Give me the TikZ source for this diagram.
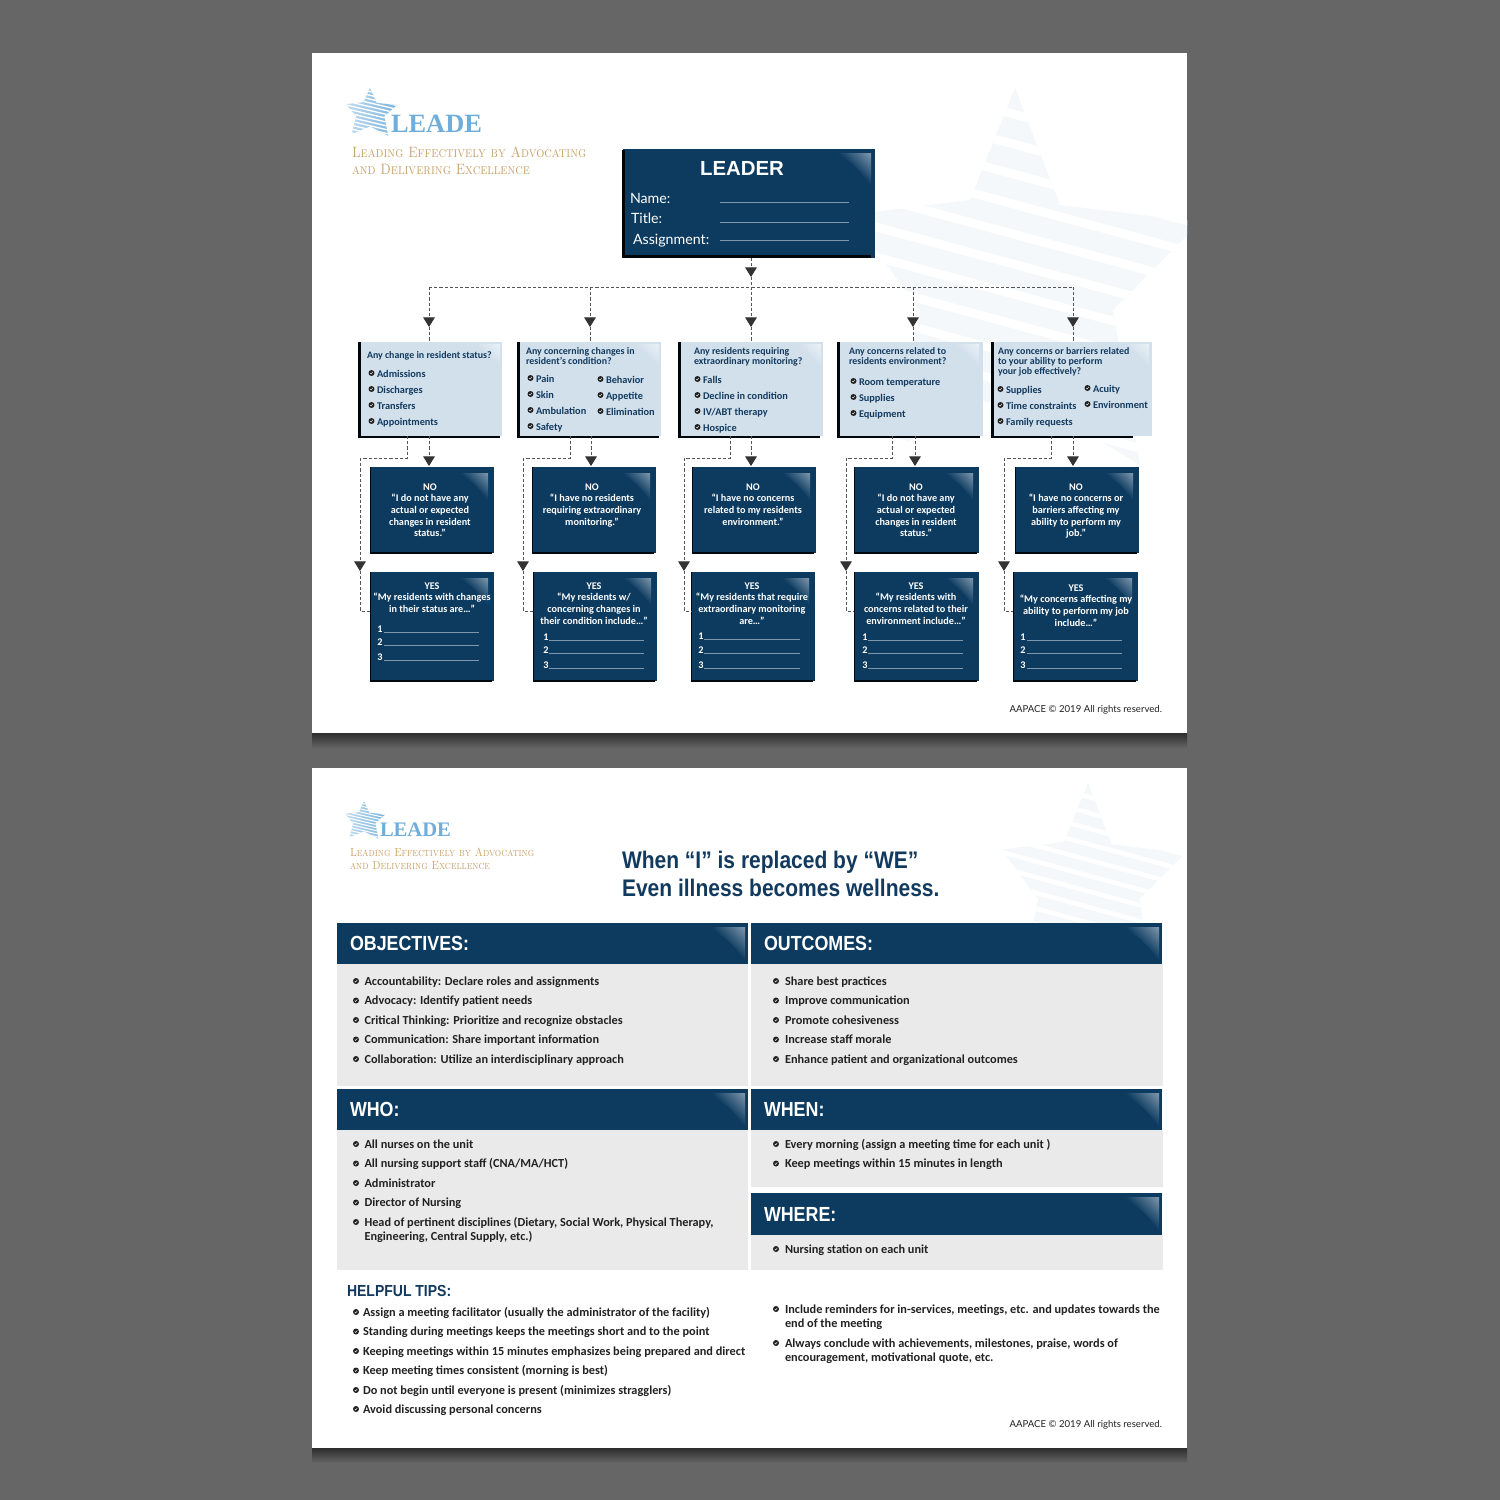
\documentclass[tikz,border=0pt]{standalone}
\usepackage{fontspec}
\usetikzlibrary{arrows.meta}
\newfontfamily\bodyfam{Carlito}
\newcommand\bodyf{\bodyfam\bfseries}
\newfontfamily\regf{Lato}
\newfontfamily\headf[FakeStretch=0.875]{Liberation Sans}
\newfontfamily\leadf{Liberation Sans}
\newfontfamily\logof{Liberation Serif}
\definecolor{navy}{HTML}{0D3B60}
\definecolor{qblue}{HTML}{D2E0EC}
\definecolor{panel}{HTML}{EAEAEA}
\definecolor{logoblue}{HTML}{6FAEDB}
\definecolor{gold}{HTML}{C9A26A}
\definecolor{ink}{HTML}{123A5E}
\definecolor{dark}{HTML}{222222}
\definecolor{conn}{HTML}{555555}
\definecolor{ruleb}{HTML}{7F97AD}
\definecolor{faint}{HTML}{F4F8FB}
\definecolor{lightn}{HTML}{B5C4D2}
\definecolor{lightq}{HTML}{F6F9FB}
\pgfdeclareverticalshading{glossnavy}{100bp}{color(0bp)=(navy); color(55bp)=(navy); color(100bp)=(lightn)}
\pgfdeclareverticalshading{glossq}{100bp}{color(0bp)=(qblue); color(55bp)=(qblue); color(100bp)=(lightq)}
\newcounter{tn}
\newcommand\fs[2]{\fontsize{#1}{#2}\selectfont}
\newcommand\sq[1]{\scalebox{.85}[1]{#1}}
% text: x, y, options, text
\newcommand\T[4]{\stepcounter{tn}\node[txt,#3] (t\thetn) at (#1,#2) {#4};}
\newcommand\ML[4]{\stepcounter{tn}\node[mltxt,#3] (t\thetn) at (#1,#2) {#4};}
\newcommand\bul[3]{\fill[#3] (#1,#2) circle (3);\draw[white,line width=.2pt] ({#1-1.2},#2) -- ({#1-.3},{#2+1}) -- ({#1+1.3},{#2-1.1});}
\newcommand\gloss[5]{% x2,y1,w,h,shading
  \shade[shading=#5,shading angle=-45] ({#1-#3},#2) -- (#1,#2) -- (#1,{#2+#4}) .. controls ({#1-.25*#3},{#2+.45*#4}) and ({#1-.6*#3},{#2+.1*#4}) .. ({#1-#3},#2) -- cycle;}
% name,x1,y1,x2,y2
\newcommand\navybox[5]{%
  \node[navyn,minimum width={(#4-#2)*.5pt},minimum height={(#5-#3)*.5pt}] (#1) at ({(#2+#4)/2},{(#3+#5)/2}) {};
  \fill[black!85!navy] (#2,#3) rectangle ({#2+1},#5);
  \fill[black!85!navy] (#2,{#5-1}) rectangle ({#4-2},{#5+1});
  \gloss{#4-6}{#3+6}{34}{30}{glossnavy}}
\newcommand\qbox[7]{% name,x1,y1,x2,y2,blackend,glossright
  \node[qn,minimum width={(#4-#2)*.5pt},minimum height={(#5-#3)*.5pt}] (#1) at ({(#2+#4)/2},{(#3+#5)/2}) {};
  \fill[black!90!navy] ({#2},#3) rectangle ({#2+2.5},{#5+2});
  \fill[black!90!navy] (#2,#5) rectangle (#6,{#5+2});
  \gloss{#7}{#3+2}{32}{24}{glossq}}
\newcommand\headbar[6]{% name,x1,y1,x2,y2,label
  \node[navyn,minimum width={(#4-#2)*.5pt},minimum height={(#5-#3)*.5pt}] (#1) at ({(#2+#4)/2},{(#3+#5)/2}) {};
  \gloss{#4-3}{#3+4}{44}{35}{glossnavy}
  \T{#2+13}{{(#3+#5)/2+1}}{anchor=west,text=white,font={\headf\bfseries\fs{10.2}{12}},text height=1.6ex,text depth=.1ex}{#6}}
\newcommand\stripestar[6]{% apex x,y,xs,ys,fillopts,gap
  \begin{scope}[shift={(#1,#2)},xscale=#3,yscale=#4]
    \clip (0,0) -- (45,117) -- (185,134) -- (98,222) -- (125,377) -- (0,302) -- (-125,362) -- (-95,222) -- (-165,127) -- (-45,112) -- cycle;
    \path[#5] (-220,-10) rectangle (220,420);
    \foreach \k in {-3,...,15}{
      \fill[white] (-220,{22+30*\k-59.4}) -- (220,{22+30*\k+59.4}) -- (220,{22+30*\k+59.4+#6}) -- (-220,{22+30*\k-59.4+#6}) -- cycle;}
  \end{scope}}
\tikzset{
  txt/.style={inner sep=0pt,outer sep=0pt,text=ink,font={\bodyf\fs{5.15}{6}},text height=1.5ex,text depth=.3ex},
  mltxt/.style={inner sep=0pt,outer sep=0pt,text=ink,font={\bodyf\fs{4.95}{5}},align=left,anchor=north west},
  ansn/.style={mltxt,text=white,align=center,anchor=north,font={\bodyf\fs{5.1}{5.85}}},
  navyn/.style={fill=navy,draw=none,inner sep=0pt,outer sep=0pt},
  qn/.style={fill=qblue,draw=none,inner sep=0pt,outer sep=0pt},
  cline/.style={draw=conn,line width=.5pt,dash pattern=on 1.6pt off 1pt},
  arr/.style={cline,-{Triangle[length=4.8pt,width=5.8pt,fill=black!80,color=black!80]}},
  lineb/.style={draw=ruleb,line width=.45pt},
  q item/.style={anchor=west,yshift=.5pt},
  body/.style={anchor=west,text=dark,yshift=.5pt,font={\bodyf\fs{6.15}{7}}},
}
\newcommand\QI[3]{\bul{#1-5.5}{#2}{dark}\T{#1}{#2}{q item}{#3}}
\newcommand\BI[4]{\bul{#1-#2}{#3}{dark}\T{#1}{#3}{body}{#4}}
\newcommand\yesrules[5]{% digit x, rule x1,rule x2, y1,y2 ; y3 = y2+15
  \T{#1}{#4-4.5}{anchor=center,text=white,font={\bodyf\fs{5.1}{6}}}{1}
  \T{#1}{#5-4.5}{anchor=center,text=white,font={\bodyf\fs{5.1}{6}}}{2}
  \T{#1}{#5+10.5}{anchor=center,text=white,font={\bodyf\fs{5.1}{6}}}{3}
  \draw[lineb] (#2,#4) -- (#3,#4);
  \draw[lineb] (#2,#5) -- (#3,#5);
  \draw[lineb] (#2,{#5+15}) -- (#3,{#5+15});}
\begin{document}
\begin{tikzpicture}[x=.5pt,y=-.5pt]
\useasboundingbox (0,0) rectangle (1500,1500);
\fill[black!60] (0,0) rectangle (1500,1500);
% pages
\shade[top color=black!82,bottom color=black!62] (312,733) rectangle (1187,747);
\shade[top color=black!82,bottom color=black!62] (312,1448) rectangle (1187,1462);
\fill[white] (312,53) rectangle (1187,733);
\fill[white] (312,768) rectangle (1187,1448);
\begin{scope}
  \clip (312,53) rectangle (1187,733);
  \stripestar{1015}{88}{1}{1}{fill=faint}{9}
\end{scope}
\begin{scope}
  \clip (312,768) rectangle (1187,1448);
  \stripestar{1088}{783}{.524}{.524}{fill=faint}{9}
\end{scope}
% logo top
\stripestar{370}{88}{.146}{.127}{left color=logoblue!35,right color=logoblue}{11}
\T{391}{127}{anchor=west,text=logoblue,font={\logof\bfseries\fs{13.2}{16}}}{LEADE}
\T{352}{152}{anchor=west,text=gold,font={\fs{7.5}{9}\scshape}}{\sq{Leading Effectively by Advocating}}
\T{352}{169}{anchor=west,text=gold,font={\fs{7.5}{9}\scshape}}{\sq{and Delivering Excellence}}
% junctions
\coordinate (tipL) at (751,277);
\coordinate (j1) at (429,287);
\coordinate (j2) at (590,287);
\coordinate (j3) at (751,287);
\coordinate (j4) at (913,287);
\coordinate (j5) at (1073,287);
\foreach \n/\x in {1/429,2/590,3/751,4/913,5/1073}{\coordinate (a\n) at (\x,327);}
\foreach \n/\x in {1/429,2/591,3/751,4/915,5/1073}{\coordinate (b\n) at (\x,466);}
\foreach \n/\x/\l in {1/407/360,2/570/523,3/730/684,4/892/846,5/1051/1004}{
  \coordinate (c\n) at (\x,458);
  \coordinate (d\n) at (\l,458);
  \coordinate (e\n) at (\l,571);
  \coordinate (f\n) at (\l,611);
}
% boxes
\node[navyn,minimum width=126pt,minimum height=54.5pt] (leader) at (749,203.5) {};
\fill[black!90!navy] (622,150) rectangle (625,258);
\fill[black!90!navy] (622,255) rectangle (871,258);
\gloss{871}{153}{40}{36}{glossnavy}
\qbox{q1}{358}{342}{502}{436}{500}{500}
\qbox{q2}{517}{342}{661}{436}{659}{659}
\qbox{q3}{678}{342}{823}{436}{820}{821}
\qbox{q4}{837}{342}{983}{436}{980}{979}
\qbox{q5}{991}{342}{1152}{436}{1133}{1149}
\navybox{no1}{370}{467}{494}{553}
\navybox{no2}{532}{467}{656}{553}
\navybox{no3}{692}{467}{816}{553}
\navybox{no4}{854}{467}{979}{553}
\navybox{no5}{1015}{467}{1139}{553}
\navybox{yes1}{370}{572}{494}{681}
\navybox{yes2}{533}{572}{657}{681}
\navybox{yes3}{691}{572}{815}{681}
\navybox{yes4}{854}{572}{979}{681}
\navybox{yes5}{1013}{572}{1138}{681}
% connectors
\draw[arr] (leader.south -| j3) -- (tipL);
\draw[cline] (tipL) -- (j3);
\draw[cline] (j1) -- (j5);
\foreach \n in {1,...,5}{
  \draw[arr] (j\n) -- (a\n);
  \draw[cline] (a\n) -- (a\n |- q\n.north);
  \draw[arr] (b\n |- q\n.south) -- (b\n);
  \draw[cline] (c\n |- q\n.south) -- (c\n) -- (d\n);
  \draw[arr] (d\n) -- (e\n);
  \draw[cline] (e\n) -- (f\n) -- (f\n -| yes\n.west);
}
% leader text
\T{742}{169}{anchor=center,text=white,font={\leadf\bfseries\fs{10.2}{12}},text height=1.5ex,text depth=0pt}{LEADER}
\T{630}{198}{anchor=west,text=white,font={\regf\fs{7.1}{9}}}{Name:}
\T{631}{218}{anchor=west,text=white,font={\regf\fs{7.1}{9}}}{Title:}
\T{633}{239}{anchor=west,text=white,font={\regf\fs{7.1}{9}}}{Assignment:}
\draw[lineb] (720,202) -- (849,202);
\draw[lineb] (720,222) -- (849,222);
\draw[lineb] (720,240) -- (849,240);
% q1
\T{367}{354}{q item,font={\bodyf\fs{4.95}{5}}}{Any change in resident status?}
\QI{377}{373}{Admissions}
\QI{377}{389}{Discharges}
\QI{377}{405}{Transfers}
\QI{377}{421}{Appointments}
% q2
\ML{526}{348}{}{Any concerning changes in\\resident’s condition?}
\QI{536}{378}{Pain}
\QI{536}{394}{Skin}
\QI{536}{410}{Ambulation}
\QI{536}{426}{Safety}
\QI{606}{379}{Behavior}
\QI{606}{395}{Appetite}
\QI{606}{411}{Elimination}
% q3
\ML{694}{348}{}{Any residents requiring\\extraordinary monitoring?}
\QI{703}{379}{Falls}
\QI{703}{395}{Decline in condition}
\QI{703}{411}{IV/ABT therapy}
\QI{703}{427}{Hospice}
% q4
\ML{849}{348}{}{Any concerns related to\\residents environment?}
\QI{859}{381}{Room temperature}
\QI{859}{397}{Supplies}
\QI{859}{413}{Equipment}
% q5
\ML{998}{348}{}{Any concerns or barriers related\\to your ability to perform\\your job effectively?}
\QI{1006}{389}{Supplies}
\QI{1006}{405}{Time constraints}
\QI{1006}{421}{Family requests}
\QI{1093}{388}{Acuity}
\QI{1093}{404}{Environment}
% NO text
\ML{430}{483.5}{ansn}{NO\\“I do not have any\\actual or expected\\changes in resident\\status.”}
\ML{592}{483.5}{ansn}{NO\\“I have no residents\\requiring extraordinary\\monitoring.”}
\ML{753}{483.5}{ansn}{NO\\“I have no concerns\\related to my residents\\environment.”}
\ML{916}{483.5}{ansn}{NO\\“I do not have any\\actual or expected\\changes in resident\\status.”}
\ML{1076}{483.5}{ansn}{NO\\“I have no concerns or\\barriers affecting my\\ability to perform my\\job.”}
% YES text
\ML{432}{582.5}{ansn}{YES\\“My residents with changes\\in their status are…”}
\ML{594}{582.5}{ansn}{YES\\“My residents w/\\concerning changes in\\their condition include…”}
\ML{752}{582.5}{ansn}{YES\\“My residents that require\\extraordinary monitoring\\are…”}
\ML{916}{582.5}{ansn}{YES\\“My residents with\\concerns related to their\\environment include…”}
\ML{1076}{584.5}{ansn}{YES\\“My concerns affecting my\\ability to perform my job\\include…”}
\yesrules{380}{384}{479}{632}{645}
\yesrules{546}{549}{644}{640}{653}
\yesrules{701}{704}{800}{639}{653}
\yesrules{865}{868}{963}{640}{653}
\yesrules{1023}{1027}{1122}{640}{653}
\T{1162}{707}{anchor=east,text=dark,font={\regf\fs{4.8}{6}}}{AAPACE © 2019 All rights reserved.}
% PAGE 2
\stripestar{364}{801}{.115}{.1}{left color=logoblue!35,right color=logoblue}{11}
\T{380}{831}{anchor=west,text=logoblue,font={\logof\bfseries\fs{10.3}{13}}}{LEADE}
\T{350}{851}{anchor=west,text=gold,font={\fs{5.9}{7}\scshape}}{\sq{Leading Effectively by Advocating}}
\T{350}{864}{anchor=west,text=gold,font={\fs{5.9}{7}\scshape}}{\sq{and Delivering Excellence}}
\ML{622}{851}{font={\headf\bfseries\fs{12}{14}},text=ink}{When “I” is replaced by “WE”\\Even illness becomes wellness.}
\fill[panel] (337,964) rectangle (748,1086);
\fill[panel] (751,964) rectangle (1163,1086);
\fill[panel] (337,1130) rectangle (748,1270);
\fill[panel] (751,1130) rectangle (1163,1187);
\fill[panel] (751,1235) rectangle (1163,1270);
\headbar{obj}{337}{923}{748}{964}{OBJECTIVES:}
\headbar{out}{751}{923}{1162}{964}{OUTCOMES:}
\headbar{who}{337}{1089}{748}{1130}{WHO:}
\headbar{whn}{751}{1089}{1162}{1130}{WHEN:}
\headbar{whr}{751}{1193}{1162}{1235}{WHERE:}
\BI{364.5}{8.5}{981}{Accountability: Declare roles and assignments}
\BI{364.5}{8.5}{1000.5}{Advocacy: Identify patient needs}
\BI{364.5}{8.5}{1020}{Critical Thinking: Prioritize and recognize obstacles}
\BI{364.5}{8.5}{1039.5}{Communication: Share important information}
\BI{364.5}{8.5}{1059}{Collaboration: Utilize an interdisciplinary  approach}
\BI{785}{9}{981}{Share best practices}
\BI{785}{9}{1000.5}{Improve communication}
\BI{785}{9}{1020}{Promote cohesiveness}
\BI{785}{9}{1039.5}{Increase staff morale}
\BI{785}{9}{1059}{Enhance patient and organizational outcomes}
\BI{364.5}{8.5}{1144}{All nurses on the unit}
\BI{364.5}{8.5}{1163.5}{All nursing support staff (CNA/MA/HCT)}
\BI{364.5}{8.5}{1183}{Administrator}
\BI{364.5}{8.5}{1202.5}{Director of Nursing}
\BI{364.5}{8.5}{1222}{Head of pertinent disciplines (Dietary, Social Work, Physical Therapy,}
\T{364.5}{1236}{body}{Engineering, Central Supply, etc.)}
\BI{785}{9}{1144}{Every morning (assign  a meeting time for each unit )}
\BI{785}{9}{1163.5}{Keep meetings within 15 minutes in length}
\BI{785}{9}{1249}{Nursing station on each unit}
\T{347}{1291}{anchor=west,text=ink,font={\headf\bfseries\fs{8}{10}}}{HELPFUL TIPS:}
\BI{363}{7}{1312}{Assign a meeting facilitator (usually the administrator of the facility)}
\BI{363}{7}{1331.5}{Standing during meetings keeps the meetings short and to the point}
\BI{363}{7}{1351}{Keeping meetings within 15 minutes emphasizes being prepared and direct}
\BI{363}{7}{1370.5}{Keep meeting times consistent (morning is best)}
\BI{363}{7}{1390}{Do not begin until everyone is present (minimizes stragglers)}
\BI{363}{7}{1409}{Avoid discussing personal concerns}
\BI{785}{9}{1309}{Include reminders for in-services, meetings, etc. and updates towards the}
\T{785}{1323}{body}{end of the meeting}
\BI{785}{9}{1343}{Always conclude with achievements, milestones, praise, words of}
\T{785}{1357}{body}{encouragement, motivational quote, etc.}
\T{1162}{1422}{anchor=east,text=dark,font={\regf\fs{4.8}{6}}}{AAPACE © 2019 All rights reserved.}
\end{tikzpicture}
\end{document}
